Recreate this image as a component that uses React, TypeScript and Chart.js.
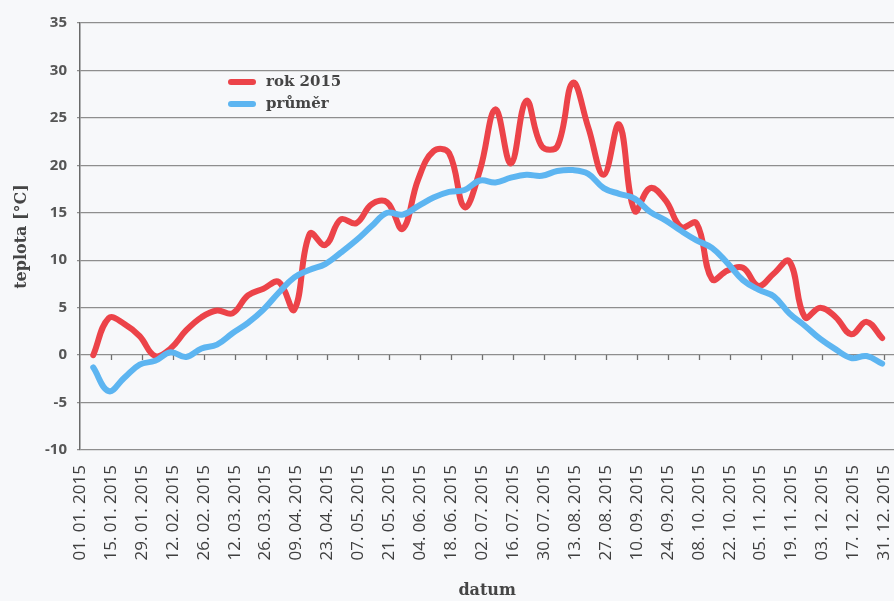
import React, { useEffect, useRef } from "react";
import { Chart, registerables } from "chart.js";

Chart.register(...registerables);

// day of year (0 = 01. 01. 2015) of each weekly value
const dayOfYear = [
  6, 13, 20, 27, 34, 41, 48, 55, 62, 69, 76, 83, 90, 97, 104, 111, 118, 125,
  132, 139, 146, 153, 160, 167, 174, 181, 188, 195, 202, 209, 216, 223, 230,
  237, 244, 251, 258, 265, 272, 279, 286, 293, 300, 307, 314, 321, 328, 335,
  342, 349, 356, 363,
];

const rok2015 = [
  0, 3.9, 3.3, 2.0, -0.1, 0.7, 2.6, 4.0, 4.7, 4.4,
  6.3, 7.0, 7.7, 4.8, 12.8, 11.6, 14.3, 13.9, 15.9, 16.1,
  13.3, 18.5, 21.5, 21.3, 15.6, 19.5, 25.9, 20.2, 26.8, 22.0,
  22.0, 28.7, 24.0, 19.0, 24.3, 15.2, 17.6, 16.3, 13.5, 13.9,
  8.0, 8.9, 9.2, 7.3, 8.6, 9.9, 4.0, 5.0, 4.0, 2.2,
  3.5, 1.8,
];

const prumer = [
  -1.3, -3.8, -2.4, -1.0, -0.6, 0.3, -0.2, 0.7, 1.1, 2.3,
  3.4, 4.8, 6.6, 8.2, 9.0, 9.6, 10.8, 12.1, 13.6, 15.0,
  14.8, 15.7, 16.6, 17.2, 17.4, 18.4, 18.2, 18.7, 19.0, 18.9,
  19.4, 19.5, 19.1, 17.6, 17.0, 16.5, 15.1, 14.2, 13.1, 12.1,
  11.3, 9.7, 7.9, 6.9, 6.2, 4.4, 3.1, 1.7, 0.6, -0.3,
  -0.1, -0.9,
];

const tickDays = [
  0, 14, 28, 42, 56, 70, 84, 98, 112, 126, 140, 154, 168, 182, 196, 210, 224,
  238, 252, 266, 280, 294, 308, 322, 336, 350, 364,
];

const tickLabels = [
  "01. 01. 2015", "15. 01. 2015", "29. 01. 2015", "12. 02. 2015",
  "26. 02. 2015", "12. 03. 2015", "26. 03. 2015", "09. 04. 2015",
  "23. 04. 2015", "07. 05. 2015", "21. 05. 2015", "04. 06. 2015",
  "18. 06. 2015", "02. 07. 2015", "16. 07. 2015", "30. 07. 2015",
  "13. 08. 2015", "27. 08. 2015", "10. 09. 2015", "24. 09. 2015",
  "08. 10. 2015", "22. 10. 2015", "05. 11. 2015", "19. 11. 2015",
  "03. 12. 2015", "17. 12. 2015", "31. 12. 2015",
];

const seriesNames = ["rok 2015", "průměr"];
const seriesColors = ["#ec4349", "#5db5f1"];

const BG = "#f7f8fa";
const SERIF = "'DejaVu Serif', serif";
const SANS = "'Open Sans', sans-serif";

export default function App() {
  const ref = useRef<HTMLCanvasElement>(null);

  useEffect(() => {
    document.body.style.margin = "0";
    document.body.style.background = BG;
    const canvas = ref.current;
    if (!canvas) return;

    const bgPlugin = {
      id: "bg",
      beforeDraw(c: any) {
        const ctx = c.ctx;
        ctx.save();
        ctx.fillStyle = BG;
        ctx.fillRect(0, 0, c.width, c.height);
        ctx.restore();
      },
    };

    const zeroTicks = {
      id: "zeroTicks",
      beforeDatasetsDraw(c: any) {
        const ctx = c.ctx;
        const xs = c.scales.x;
        const y0 = c.scales.y.getPixelForValue(0);
        ctx.save();
        ctx.strokeStyle = "#707070";
        ctx.lineWidth = 1.3;
        ctx.beginPath();
        tickDays.forEach((d, i) => {
          if (i === 0) return;
          const px = Math.round(xs.getPixelForValue(d)) + 0.5;
          ctx.moveTo(px, y0);
          ctx.lineTo(px, y0 + 5);
        });
        ctx.stroke();
        ctx.restore();
      },
    };

    const legendPlugin = {
      id: "customLegend",
      afterDraw(c: any) {
        const ctx = c.ctx;
        const left = 231;
        const top = 82;
        const gap = 22;
        ctx.save();
        seriesNames.forEach((name, i) => {
          const y = top + i * gap;
          ctx.strokeStyle = seriesColors[i];
          ctx.lineWidth = 6;
          ctx.lineCap = "round";
          ctx.beginPath();
          ctx.moveTo(left, y);
          ctx.lineTo(left + 22, y);
          ctx.stroke();
          ctx.fillStyle = "#454545";
          ctx.font = `bold 15px ${SERIF}`;
          ctx.textBaseline = "middle";
          ctx.textAlign = "left";
          ctx.fillText(name, left + 35, y);
        });
        ctx.restore();
      },
    };

    const chart = new Chart(canvas, {
      type: "line",
      data: {
        datasets: [
          {
            label: seriesNames[0],
            data: dayOfYear.map((d, i) => ({ x: d, y: rok2015[i] })),
            borderColor: seriesColors[0],
            borderWidth: 6,
            tension: 0.4,
            pointRadius: 0,
            borderCapStyle: "round",
            borderJoinStyle: "round",
            fill: false,
            order: 2,
          },
          {
            label: seriesNames[1],
            data: dayOfYear.map((d, i) => ({ x: d, y: prumer[i] })),
            borderColor: seriesColors[1],
            borderWidth: 6,
            tension: 0.4,
            pointRadius: 0,
            borderCapStyle: "round",
            borderJoinStyle: "round",
            fill: false,
            order: 1,
          },
        ],
      },
      options: {
        responsive: false,
        animation: false,
        devicePixelRatio: 1,
        layout: { padding: { left: 0, top: 23, right: 20, bottom: 0 } },
        plugins: {
          legend: { display: false },
          tooltip: { enabled: false },
          title: { display: false },
        },
        scales: {
          x: {
            type: "linear",
            min: 0,
            max: 368.5,
            afterBuildTicks(s: any) {
              s.ticks = tickDays.map((v) => ({ value: v }));
            },
            afterFit(s: any) {
              s.height = 151;
            },
            grid: { display: false, drawTicks: false },
            border: { display: false },
            ticks: {
              autoSkip: false,
              maxRotation: 90,
              minRotation: 90,
              padding: 15,
              color: "#3f3f3f",
              font: { family: SANS, size: 17 },
              callback: (_v: any, i: number) => tickLabels[i],
            },
            title: {
              display: true,
              text: "datum",
              color: "#454545",
              font: { family: SERIF, size: 16, weight: "bold" },
              padding: { top: 0, bottom: 1 },
            },
          },
          y: {
            min: -10,
            max: 35,
            afterFit(s: any) {
              s.width = 80;
            },
            ticks: {
              stepSize: 5,
              padding: 10,
              color: "#555555",
              font: { family: SANS, size: 15, weight: "bold" },
            },
            grid: { color: "#8e8e8e", lineWidth: 1.3, tickLength: 3 },
            border: { display: true, color: "#6a6a6a", width: 1.5 },
            title: {
              display: true,
              text: "teplota [°C]",
              color: "#454545",
              font: { family: SERIF, size: 16, weight: "bold" },
              padding: { top: 12, bottom: 0 },
            },
          },
        },
      },
      plugins: [bgPlugin, zeroTicks, legendPlugin],
    } as any);

    return () => chart.destroy();
  }, []);

  return (
    <div style={{ width: 894, height: 601, overflow: "hidden", background: BG }}>
      <canvas ref={ref} width={920} height={601} style={{ display: "block" }} />
    </div>
  );
}
